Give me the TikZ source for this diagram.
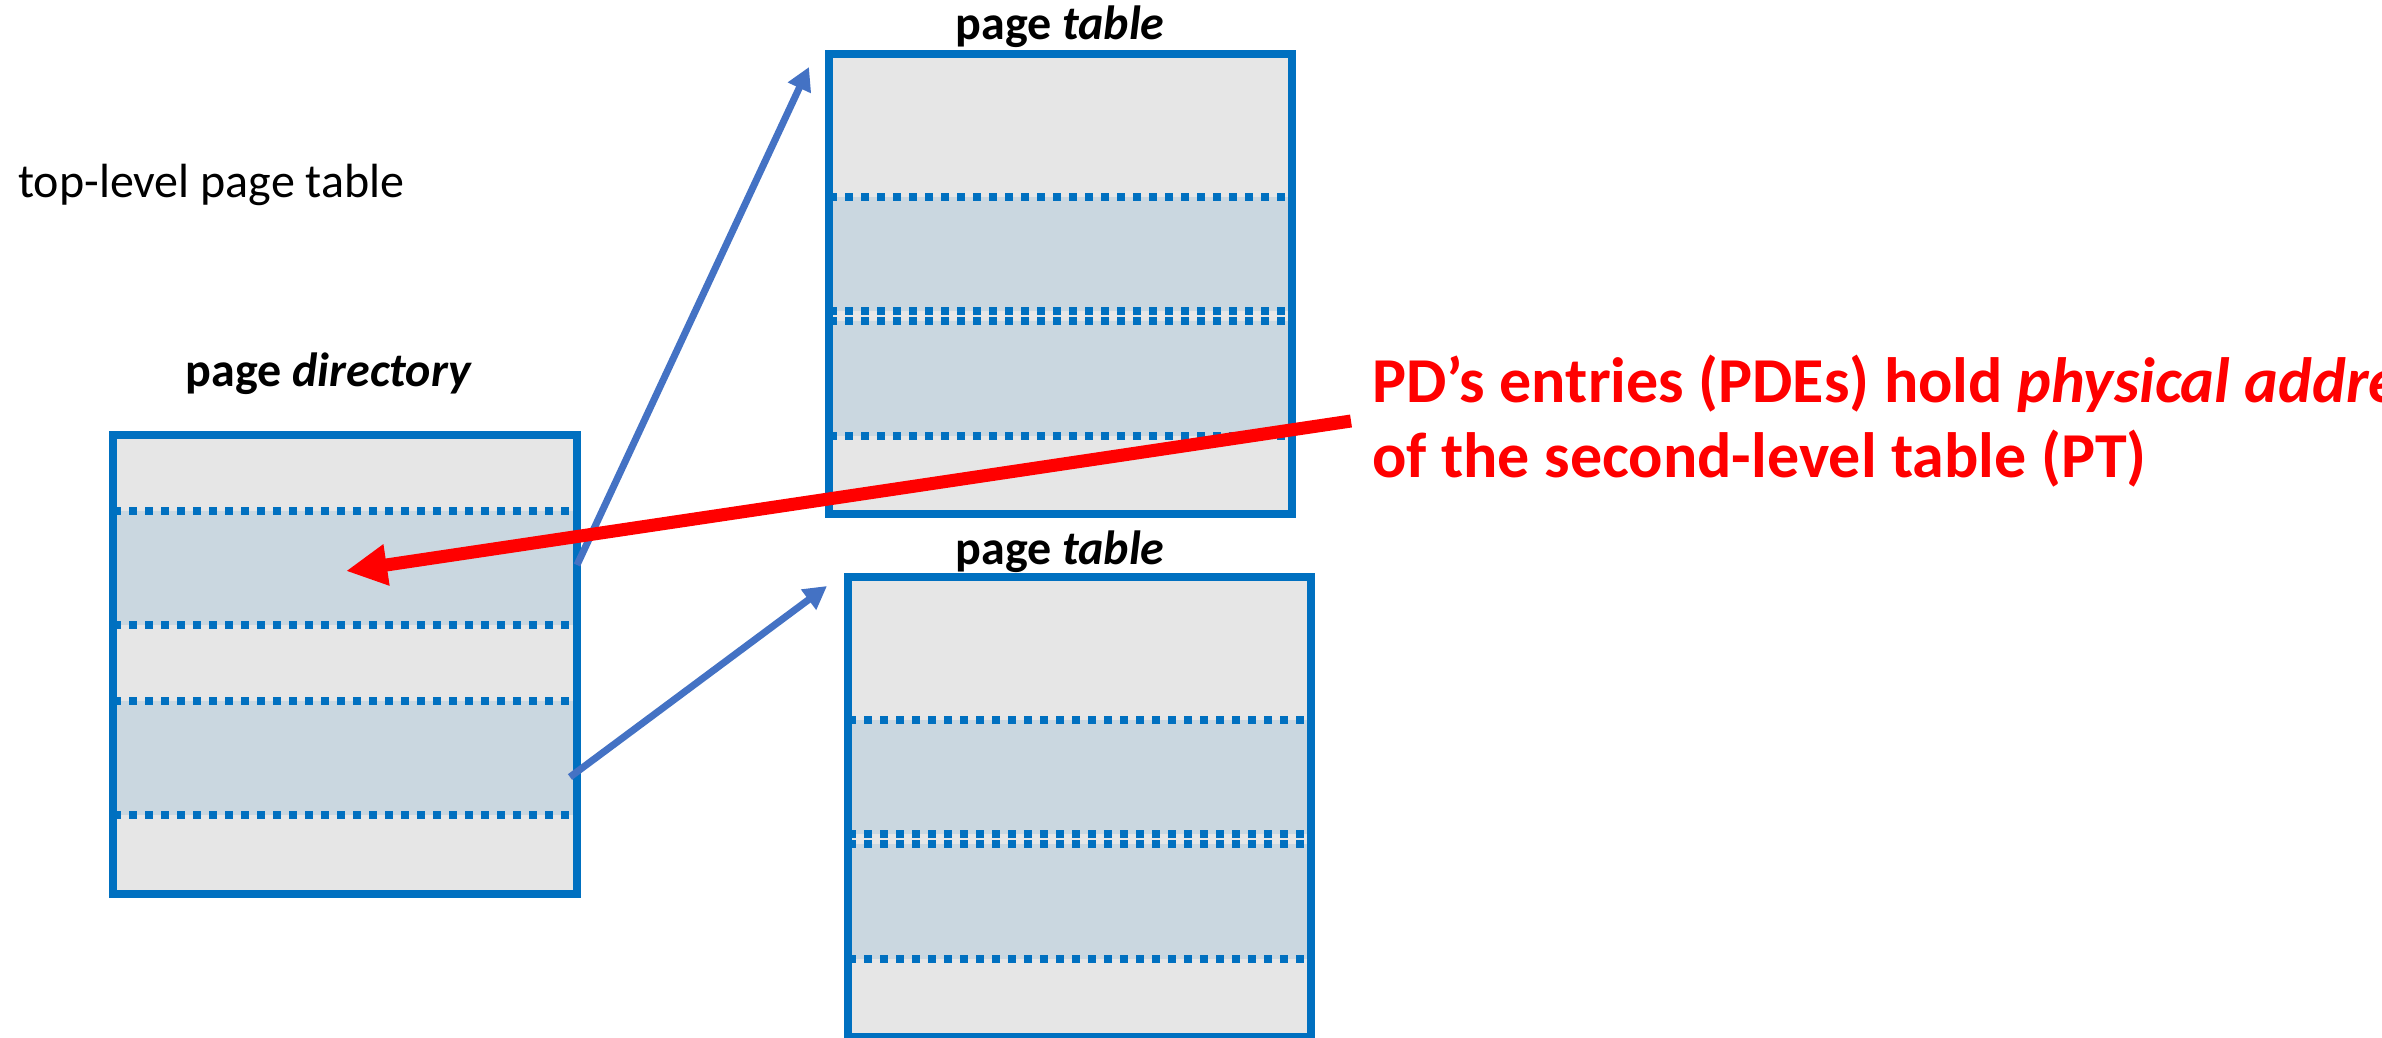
\documentclass[tikz,border=0pt]{standalone}
\usepackage{fontspec}
\setmainfont{Carlito}
\usetikzlibrary{arrows.meta,calc}

\definecolor{boxblue}{HTML}{0070C0}
\definecolor{arrowblue}{HTML}{4472C4}
\definecolor{cellgray}{HTML}{E6E6E6}
\definecolor{bandblue}{HTML}{CAD7E0}
\definecolor{notered}{HTML}{FF0000}

\tikzset{
  tablebox/.style={rectangle, fill=cellgray, draw=boxblue, line width=8pt,
    inner sep=0pt, outer sep=0pt},
  pdbox/.style={tablebox, minimum width=464pt, minimum height=459pt},
  ptbox/.style={tablebox, minimum width=463pt, minimum height=460pt},
  band/.style={fill=bandblue},
  dotline/.style={draw=boxblue, line width=8pt, dash pattern=on 8pt off 8pt},
  title/.style={font=\fontsize{48}{58}\selectfont\bfseries, inner sep=0pt, anchor=base},
  ptr/.style={draw=arrowblue, line width=7pt, -{Triangle[length=23pt,width=24pt]}},
  note/.style={draw=notered, line width=13pt, -{Triangle[length=41pt,width=39pt]}},
  notetext/.style={text=notered, font=\fontsize{64}{75}\selectfont\bfseries,
    align=left, inner sep=0pt, anchor=base west},
}

% band and dotted separators of one table: #1 node, #2/#3 first band, #4/#5 second band
\newcommand{\tablerows}[5]{%
  \fill[band] ($(#1.north west)+(0,#2)$) rectangle ($(#1.north east)+(0,#3)$);
  \fill[band] ($(#1.north west)+(0,#4)$) rectangle ($(#1.north east)+(0,#5)$);
  \foreach \yy in {#2,#3,#4,#5}
    \draw[dotline] ($(#1.north west)+(0,\yy)$) -- ($(#1.north east)+(0,\yy)$);
  \draw[boxblue, line width=8pt] (#1.north west) rectangle (#1.south east);
}

\begin{document}
\begin{tikzpicture}[x=1pt, y=-1pt]
  \clip (0,0) rectangle (2382,1037);
  \fill[white] (0,0) rectangle (2382,1037);

  % caption at the top left
  \node[font=\fontsize{48}{58}\selectfont, inner sep=0pt, anchor=base west] (caption)
    at (18,197) {top-level page table};

  % page directory
  \node[pdbox] (pd) at (345,664.5) {};
  \tablerows{pd}{76}{190}{266}{380}
  \node[title] (pdlabel) at (329,386) {page \textit{directory}};

  % upper page table
  \node[ptbox] (pt1) at (1060.5,284) {};
  \tablerows{pt1}{143}{257}{267}{382}
  \node[title] (pt1label) at (1060,39) {page \textit{table}};

  % lower page table
  \node[ptbox] (pt2) at (1079.5,807) {};
  \tablerows{pt2}{143}{257}{267}{382}
  \node[title] (pt2label) at (1060,564) {page \textit{table}};

  % pointers from directory entries to the page tables
  \coordinate (pde1) at ($(pd.north east)+(0,130)$);
  \coordinate (pde2) at ($(pd.north east)+(-7,342)$);
  \coordinate (pt1in) at ($(pt1.north west)+(-20,13)$);
  \coordinate (pt2in) at ($(pt2.north west)+(-21,9)$);
  \draw[ptr] (pde1) -- (pt1in);
  \draw[ptr] (pde2) -- (pt2in);

  % explanatory note (anchored on the baseline of its last line)
  \node[notetext] (note) at (1372,477)
    {PD’s entries (PDEs) hold \textit{physical addre}\\of the second-level table (PT)};
  \coordinate (notestart) at (1351,421);
  \coordinate (pdentry) at (346,571);
  \draw[note] (notestart) -- (pdentry);
\end{tikzpicture}
\end{document}
